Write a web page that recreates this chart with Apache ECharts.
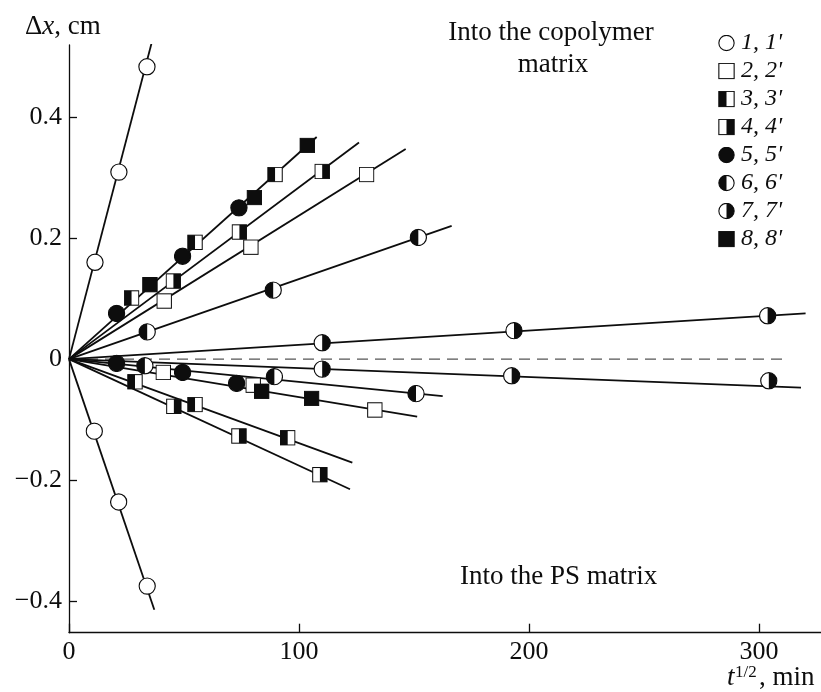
<!DOCTYPE html>
<html>
<head>
<meta charset="utf-8">
<script src="https://cdn.jsdelivr.net/npm/echarts@6/dist/echarts.min.js"></script>
<style>
html,body{margin:0;padding:0;background:#fff;}
#chart{width:821px;height:692px;}
</style>
</head>
<body>
<div id="chart"></div>
<script>
// ---- data ----
const xTicks = [0, 100, 200, 300];
const yTicks = [-0.4, -0.2, 0, 0.2, 0.4];
const legendNames = ["1, 1'", "2, 2'", "3, 3'", "4, 4'", "5, 5'", "6, 6'", "7, 7'", "8, 8'"];

// positive (into the copolymer matrix) and negative (into the PS matrix) points
const s1  = [[11.3, 0.160], [21.7, 0.309], [33.9, 0.483]];
const s1n = [[11.0, -0.119], [21.6, -0.236], [34.0, -0.375]];
const s2  = [[41.4, 0.096], [79.1, 0.185], [129.4, 0.305]];
const s2n = [[41.0, -0.022], [80.1, -0.043], [133.0, -0.084]];
const s3  = [[27.2, 0.101], [54.8, 0.193], [89.6, 0.305]];
const s3n = [[28.7, -0.0375], [54.8, -0.075], [95.1, -0.130]];
const s4  = [[45.4, 0.129], [74.1, 0.210], [110.1, 0.310]];
const s4n = [[45.6, -0.078], [73.9, -0.127], [109.1, -0.191]];
const s5  = [[20.7, 0.0755], [49.4, 0.170], [73.9, 0.250]];
const s5n = [[20.7, -0.007], [49.4, -0.022], [72.9, -0.040]];
const s6  = [[34.0, 0.045], [88.8, 0.114], [151.9, 0.201]];
const s6n = [[33.0, -0.011], [89.3, -0.029], [150.9, -0.057]];
const s7  = [[110.1, 0.027], [193.5, 0.047], [303.8, 0.0716]];
const s7n = [[110.1, -0.0165], [192.5, -0.0275], [304.3, -0.0358]];
const s8  = [[35.2, 0.123], [80.6, 0.267], [103.6, 0.353]];
const s8n = [[83.8, -0.053], [105.5, -0.065]];

// fitted straight lines through the origin: [start, end]
const line1   = [[0, 0], [35.9, 0.522]];
const line1n  = [[0, 0], [37.1, -0.414]];
const lineTop = [[0, 0], [107.7, 0.367]];
const line4   = [[0, 0], [126.1, 0.358]];
const line2   = [[0, 0], [146.4, 0.347]];
const line6   = [[0, 0], [166.4, 0.220]];
const line7   = [[0, 0], [320.3, 0.0755]];
const line7n  = [[0, 0], [318.3, -0.047]];
const line6n  = [[0, 0], [162.5, -0.061]];
const line2n  = [[0, 0], [151.4, -0.095]];
const line3n  = [[0, 0], [123.2, -0.171]];
const line4n  = [[0, 0], [122.2, -0.215]];
const zeroLine = [[0, 0], [312, 0]];

// ---- marker glyphs ----
const K = '#0d0d0d';
function markerUri(shape, half) {
  let body = '';
  if (shape === 'circle') {
    body += "<circle cx='20' cy='20' r='18' fill='" + (half === 'full' ? K : '#fff') + "'/>";
    if (half === 'left') body += "<path d='M20 2 A18 18 0 0 0 20 38 Z' fill='" + K + "'/>";
    if (half === 'right') body += "<path d='M20 2 A18 18 0 0 1 20 38 Z' fill='" + K + "'/>";
    body += "<circle cx='20' cy='20' r='18' fill='none' stroke='" + K + "' stroke-width='2.6'/>";
  } else {
    body += "<rect x='2' y='2' width='36' height='36' fill='" + (half === 'full' ? K : '#fff') + "'/>";
    if (half === 'left') body += "<rect x='2' y='2' width='18' height='36' fill='" + K + "'/>";
    if (half === 'right') body += "<rect x='20' y='2' width='18' height='36' fill='" + K + "'/>";
    body += "<rect x='2' y='2' width='36' height='36' fill='none' stroke='" + K + "' stroke-width='2.6'/>";
  }
  const svg = "<svg xmlns='http://www.w3.org/2000/svg' width='40' height='40' viewBox='0 0 40 40'>" + body + "</svg>";
  return 'image://data:image/svg+xml;charset=utf-8,' + encodeURIComponent(svg);
}

const groups = [
  { shape: 'circle', half: 'none',  pts: s1.concat(s1n) },
  { shape: 'square', half: 'none',  pts: s2.concat(s2n) },
  { shape: 'square', half: 'left',  pts: s3.concat(s3n) },
  { shape: 'square', half: 'right', pts: s4.concat(s4n) },
  { shape: 'circle', half: 'full',  pts: s5.concat(s5n) },
  { shape: 'circle', half: 'left',  pts: s6.concat(s6n) },
  { shape: 'circle', half: 'right', pts: s7.concat(s7n) },
  { shape: 'square', half: 'full',  pts: s8.concat(s8n) }
];

const FONT = "'Liberation Serif', 'Times New Roman', serif";

const series = [];
[line1, line1n, lineTop, line4, line2, line6, line7, line7n, line6n, line2n, line3n, line4n].forEach(function (d, i) {
  series.push({
    type: 'line', name: 'fit' + i, data: d, showSymbol: false, symbol: 'none',
    silent: true, z: 2, animation: false,
    lineStyle: { color: K, width: 1.8 }
  });
});
series.push({
  type: 'line', name: 'zero', data: zeroLine, showSymbol: false, symbol: 'none',
  silent: true, z: 1, animation: false,
  lineStyle: { color: '#555', width: 1.2, type: [11, 7] }
});
groups.forEach(function (g, i) {
  series.push({
    type: 'scatter', name: legendNames[i], data: g.pts,
    symbol: markerUri(g.shape, g.half),
    symbolSize: g.shape === 'circle' ? 18 : 16,
    itemStyle: { opacity: 1 },
    z: 5, animation: false
  });
});

const chart = echarts.init(document.getElementById('chart'), null, { renderer: 'canvas' });
chart.setOption({
  animation: false,
  backgroundColor: '#fff',
  grid: { left: 69, right: 0, top: 45, bottom: 59.3, containLabel: false, outerBoundsMode: 'none' },
  xAxis: {
    type: 'value', min: 0, max: 327,
    axisLine: { onZero: false, lineStyle: { color: K, width: 1.3 } },
    axisTick: { inside: true, length: 9, customValues: xTicks, lineStyle: { color: K, width: 1.3 } },
    axisLabel: { customValues: xTicks, margin: 6, color: K, fontSize: 26, fontFamily: FONT },
    splitLine: { show: false }
  },
  yAxis: {
    type: 'value', min: -0.452, max: 0.519,
    axisLine: { show: true, lineStyle: { color: K, width: 1.3 } },
    axisTick: { show: true, inside: true, length: 8, customValues: yTicks, lineStyle: { color: K, width: 1.3 } },
    axisLabel: {
      customValues: yTicks, margin: 7, color: K, fontSize: 26, fontFamily: FONT,
      formatter: function (v) {
        if (Math.abs(v) < 1e-9) return '0';
        return (v < 0 ? '\u2212' : '') + Math.abs(v).toFixed(1);
      }
    },
    splitLine: { show: false }
  },
  legend: {
    orient: 'vertical', left: 713, top: 26,
    itemWidth: 17, itemHeight: 17, itemGap: 4,
    data: legendNames.map(function (n, i) { return { name: n, icon: markerUri(groups[i].shape, groups[i].half), itemStyle: { opacity: 1 } }; }),
    textStyle: { fontFamily: FONT, fontStyle: 'italic', fontSize: 24, color: K, padding: [0, 0, 0, 1] },
    selectedMode: false
  },
  graphic: [
    { type: 'text', left: 25, top: 13, style: { text: '{a|\u0394}{b|x}{a|, cm}', rich: { a: { fontFamily: FONT, fontSize: 27, fill: K }, b: { fontFamily: FONT, fontSize: 27, fontStyle: 'italic', fill: K } } } },
    { type: 'text', x: 551, y: 33, style: { text: 'Into the copolymer', fontFamily: FONT, fontSize: 27, fill: K, align: 'center', verticalAlign: 'middle' } },
    { type: 'text', x: 553, y: 65, style: { text: 'matrix', fontFamily: FONT, fontSize: 27, fill: K, align: 'center', verticalAlign: 'middle' } },
    { type: 'text', x: 460, y: 577, style: { text: 'Into the PS matrix', fontFamily: FONT, fontSize: 27, fill: K, align: 'left', verticalAlign: 'middle' } },
    { type: 'text', x: 727, y: 678, style: { text: 't', fontFamily: FONT, fontSize: 27, fontStyle: 'italic', fill: K, align: 'left', verticalAlign: 'middle' } },
    { type: 'text', x: 735, y: 673, style: { text: '1/2', fontFamily: FONT, fontSize: 17, fill: K, align: 'left', verticalAlign: 'middle' } },
    { type: 'text', x: 759, y: 678, style: { text: ', min', fontFamily: FONT, fontSize: 27, fill: K, align: 'left', verticalAlign: 'middle' } }
  ],
  series: series
});
</script>
</body>
</html>
